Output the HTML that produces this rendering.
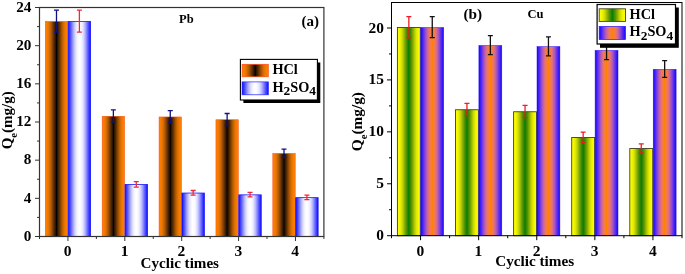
<!DOCTYPE html>
<html><head><meta charset="utf-8"><title>chart</title>
<style>html,body{margin:0;padding:0;background:#fff;}svg{display:block;will-change:transform;}text{font-family:"Liberation Serif",serif;font-weight:bold;fill:#000;}</style></head><body>
<svg width="685" height="274" viewBox="0 0 685 274">
<defs>
<linearGradient id="gO" x1="0" x2="1" y1="0" y2="0"><stop offset="0.0000" stop-color="#ff8000"/><stop offset="0.0312" stop-color="#fd7f00"/><stop offset="0.0625" stop-color="#f97d00"/><stop offset="0.0938" stop-color="#f47a00"/><stop offset="0.1250" stop-color="#ec7700"/><stop offset="0.1562" stop-color="#e27200"/><stop offset="0.1875" stop-color="#d56b00"/><stop offset="0.2188" stop-color="#c66300"/><stop offset="0.2500" stop-color="#b45b00"/><stop offset="0.2812" stop-color="#a15100"/><stop offset="0.3125" stop-color="#8c4600"/><stop offset="0.3438" stop-color="#763b00"/><stop offset="0.3750" stop-color="#603000"/><stop offset="0.4062" stop-color="#4b2600"/><stop offset="0.4375" stop-color="#371b00"/><stop offset="0.4688" stop-color="#221100"/><stop offset="0.5000" stop-color="#000000"/><stop offset="0.5312" stop-color="#221100"/><stop offset="0.5625" stop-color="#371b00"/><stop offset="0.5938" stop-color="#4b2600"/><stop offset="0.6250" stop-color="#603000"/><stop offset="0.6562" stop-color="#763b00"/><stop offset="0.6875" stop-color="#8c4600"/><stop offset="0.7188" stop-color="#a15100"/><stop offset="0.7500" stop-color="#b45b00"/><stop offset="0.7812" stop-color="#c66300"/><stop offset="0.8125" stop-color="#d56b00"/><stop offset="0.8438" stop-color="#e27200"/><stop offset="0.8750" stop-color="#ec7700"/><stop offset="0.9062" stop-color="#f47a00"/><stop offset="0.9375" stop-color="#f97d00"/><stop offset="0.9688" stop-color="#fd7f00"/><stop offset="1.0000" stop-color="#ff8000"/></linearGradient>
<linearGradient id="gB" x1="0" x2="1" y1="0" y2="0"><stop offset="0.0000" stop-color="#0000ff"/><stop offset="0.0312" stop-color="#2222ff"/><stop offset="0.0625" stop-color="#3737ff"/><stop offset="0.0938" stop-color="#4b4bff"/><stop offset="0.1250" stop-color="#6060ff"/><stop offset="0.1562" stop-color="#7676ff"/><stop offset="0.1875" stop-color="#8c8cff"/><stop offset="0.2188" stop-color="#a1a1ff"/><stop offset="0.2500" stop-color="#b4b4ff"/><stop offset="0.2812" stop-color="#c6c6ff"/><stop offset="0.3125" stop-color="#d5d5ff"/><stop offset="0.3438" stop-color="#e2e2ff"/><stop offset="0.3750" stop-color="#ececff"/><stop offset="0.4062" stop-color="#f4f4ff"/><stop offset="0.4375" stop-color="#f9f9ff"/><stop offset="0.4688" stop-color="#fdfdff"/><stop offset="0.5000" stop-color="#ffffff"/><stop offset="0.5312" stop-color="#fdfdff"/><stop offset="0.5625" stop-color="#f9f9ff"/><stop offset="0.5938" stop-color="#f4f4ff"/><stop offset="0.6250" stop-color="#ececff"/><stop offset="0.6562" stop-color="#e2e2ff"/><stop offset="0.6875" stop-color="#d5d5ff"/><stop offset="0.7188" stop-color="#c6c6ff"/><stop offset="0.7500" stop-color="#b4b4ff"/><stop offset="0.7812" stop-color="#a1a1ff"/><stop offset="0.8125" stop-color="#8c8cff"/><stop offset="0.8438" stop-color="#7676ff"/><stop offset="0.8750" stop-color="#6060ff"/><stop offset="0.9062" stop-color="#4b4bff"/><stop offset="0.9375" stop-color="#3737ff"/><stop offset="0.9688" stop-color="#2222ff"/><stop offset="1.0000" stop-color="#0000ff"/></linearGradient>
<linearGradient id="gY" x1="0" x2="1" y1="0" y2="0"><stop offset="0.0000" stop-color="#ffff00"/><stop offset="0.0312" stop-color="#fdfd00"/><stop offset="0.0625" stop-color="#f9fb00"/><stop offset="0.0938" stop-color="#f4f700"/><stop offset="0.1250" stop-color="#ecf100"/><stop offset="0.1562" stop-color="#e2ea00"/><stop offset="0.1875" stop-color="#d5e100"/><stop offset="0.2188" stop-color="#c6d600"/><stop offset="0.2500" stop-color="#b4ca00"/><stop offset="0.2812" stop-color="#a1bd00"/><stop offset="0.3125" stop-color="#8cb000"/><stop offset="0.3438" stop-color="#76a400"/><stop offset="0.3750" stop-color="#609900"/><stop offset="0.4062" stop-color="#4b9000"/><stop offset="0.4375" stop-color="#378800"/><stop offset="0.4688" stop-color="#228300"/><stop offset="0.5000" stop-color="#008000"/><stop offset="0.5312" stop-color="#228300"/><stop offset="0.5625" stop-color="#378800"/><stop offset="0.5938" stop-color="#4b9000"/><stop offset="0.6250" stop-color="#609900"/><stop offset="0.6562" stop-color="#76a400"/><stop offset="0.6875" stop-color="#8cb000"/><stop offset="0.7188" stop-color="#a1bd00"/><stop offset="0.7500" stop-color="#b4ca00"/><stop offset="0.7812" stop-color="#c6d600"/><stop offset="0.8125" stop-color="#d5e100"/><stop offset="0.8438" stop-color="#e2ea00"/><stop offset="0.8750" stop-color="#ecf100"/><stop offset="0.9062" stop-color="#f4f700"/><stop offset="0.9375" stop-color="#f9fb00"/><stop offset="0.9688" stop-color="#fdfd00"/><stop offset="1.0000" stop-color="#ffff00"/></linearGradient>
<linearGradient id="gP" x1="0" x2="1" y1="0" y2="0"><stop offset="0.0000" stop-color="#0000ff"/><stop offset="0.0312" stop-color="#2211fd"/><stop offset="0.0625" stop-color="#371bf9"/><stop offset="0.0938" stop-color="#4b26f4"/><stop offset="0.1250" stop-color="#6030ec"/><stop offset="0.1562" stop-color="#763be2"/><stop offset="0.1875" stop-color="#8c46d5"/><stop offset="0.2188" stop-color="#a151c6"/><stop offset="0.2500" stop-color="#b45bb4"/><stop offset="0.2812" stop-color="#c663a1"/><stop offset="0.3125" stop-color="#d56b8c"/><stop offset="0.3438" stop-color="#e27276"/><stop offset="0.3750" stop-color="#ec7760"/><stop offset="0.4062" stop-color="#f47a4b"/><stop offset="0.4375" stop-color="#f97d37"/><stop offset="0.4688" stop-color="#fd7f22"/><stop offset="0.5000" stop-color="#ff8000"/><stop offset="0.5312" stop-color="#fd7f22"/><stop offset="0.5625" stop-color="#f97d37"/><stop offset="0.5938" stop-color="#f47a4b"/><stop offset="0.6250" stop-color="#ec7760"/><stop offset="0.6562" stop-color="#e27276"/><stop offset="0.6875" stop-color="#d56b8c"/><stop offset="0.7188" stop-color="#c663a1"/><stop offset="0.7500" stop-color="#b45bb4"/><stop offset="0.7812" stop-color="#a151c6"/><stop offset="0.8125" stop-color="#8c46d5"/><stop offset="0.8438" stop-color="#763be2"/><stop offset="0.8750" stop-color="#6030ec"/><stop offset="0.9062" stop-color="#4b26f4"/><stop offset="0.9375" stop-color="#371bf9"/><stop offset="0.9688" stop-color="#2211fd"/><stop offset="1.0000" stop-color="#0000ff"/></linearGradient>
</defs>
<rect width="685" height="274" fill="#fff"/>
<rect x="45.29" y="21.45" width="22.40" height="215.05" fill="url(#gO)" stroke="#ff4a10" stroke-width="0.5"/>
<rect x="68.19" y="21.45" width="22.40" height="215.05" fill="url(#gB)" stroke="#1818ff" stroke-width="0.8"/>
<rect x="102.17" y="116.25" width="22.40" height="120.25" fill="url(#gO)" stroke="#ff4a10" stroke-width="0.5"/>
<rect x="125.07" y="184.55" width="22.40" height="51.95" fill="url(#gB)" stroke="#1818ff" stroke-width="0.8"/>
<rect x="159.05" y="116.95" width="22.40" height="119.55" fill="url(#gO)" stroke="#ff4a10" stroke-width="0.5"/>
<rect x="181.95" y="193.05" width="22.40" height="43.45" fill="url(#gB)" stroke="#1818ff" stroke-width="0.8"/>
<rect x="215.93" y="119.75" width="22.40" height="116.75" fill="url(#gO)" stroke="#ff4a10" stroke-width="0.5"/>
<rect x="238.83" y="194.85" width="22.40" height="41.65" fill="url(#gB)" stroke="#1818ff" stroke-width="0.8"/>
<rect x="272.81" y="153.45" width="22.40" height="83.05" fill="url(#gO)" stroke="#ff4a10" stroke-width="0.5"/>
<rect x="295.71" y="197.65" width="22.40" height="38.85" fill="url(#gB)" stroke="#1818ff" stroke-width="0.8"/>
<path d="M56.49 10.20V32.20M53.99 10.20H58.99M53.99 32.20H58.99" stroke="#101080" stroke-width="1.3" fill="none"/>
<path d="M79.39 10.20V32.20M76.89 10.20H81.89M76.89 32.20H81.89" stroke="#f02838" stroke-width="1.3" fill="none"/>
<path d="M113.37 109.80V122.20M110.87 109.80H115.87M110.87 122.20H115.87" stroke="#101080" stroke-width="1.3" fill="none"/>
<path d="M136.27 181.55V187.05M133.77 181.55H138.77M133.77 187.05H138.77" stroke="#f02838" stroke-width="1.3" fill="none"/>
<path d="M170.25 110.60V122.80M167.75 110.60H172.75M167.75 122.80H172.75" stroke="#101080" stroke-width="1.3" fill="none"/>
<path d="M193.15 190.50V195.10M190.65 190.50H195.65M190.65 195.10H195.65" stroke="#f02838" stroke-width="1.3" fill="none"/>
<path d="M227.13 113.50V125.50M224.63 113.50H229.63M224.63 125.50H229.63" stroke="#101080" stroke-width="1.3" fill="none"/>
<path d="M250.03 192.30V196.90M247.53 192.30H252.53M247.53 196.90H252.53" stroke="#f02838" stroke-width="1.3" fill="none"/>
<path d="M284.01 149.10V157.30M281.51 149.10H286.51M281.51 157.30H286.51" stroke="#101080" stroke-width="1.3" fill="none"/>
<path d="M306.91 195.20V199.60M304.41 195.20H309.41M304.41 199.60H309.41" stroke="#f02838" stroke-width="1.3" fill="none"/>
<rect x="39.5" y="7.5" width="284.40" height="229.0" fill="none" stroke="#333" stroke-width="1.2"/>
<path d="M39.5 236.50h-4.5M39.5 217.42h-2.5M39.5 198.33h-4.5M39.5 179.25h-2.5M39.5 160.17h-4.5M39.5 141.08h-2.5M39.5 122.00h-4.5M39.5 102.92h-2.5M39.5 83.83h-4.5M39.5 64.75h-2.5M39.5 45.67h-4.5M39.5 26.58h-2.5M39.5 7.50h-4.5M39.50 236.5v2.5M67.94 236.5v4.5M96.38 236.5v2.5M124.82 236.5v4.5M153.26 236.5v2.5M181.70 236.5v4.5M210.14 236.5v2.5M238.58 236.5v4.5M267.02 236.5v2.5M295.46 236.5v4.5M323.90 236.5v2.5" stroke="#333" stroke-width="1" fill="none"/>
<text x="31.4" y="240.80" font-size="15.2" text-anchor="end">0</text>
<text x="31.4" y="202.63" font-size="15.2" text-anchor="end">4</text>
<text x="31.4" y="164.47" font-size="15.2" text-anchor="end">8</text>
<text x="31.4" y="126.30" font-size="15.2" text-anchor="end">12</text>
<text x="31.4" y="88.13" font-size="15.2" text-anchor="end">16</text>
<text x="31.4" y="49.97" font-size="15.2" text-anchor="end">20</text>
<text x="31.4" y="11.80" font-size="15.2" text-anchor="end">24</text>
<text x="67.64" y="255.9" font-size="15.5" text-anchor="middle">0</text>
<text x="124.52" y="255.9" font-size="15.5" text-anchor="middle">1</text>
<text x="181.40" y="255.9" font-size="15.5" text-anchor="middle">2</text>
<text x="238.28" y="255.9" font-size="15.5" text-anchor="middle">3</text>
<text x="295.16" y="255.9" font-size="15.5" text-anchor="middle">4</text>
<text x="179.8" y="267.8" font-size="15.1" text-anchor="middle">Cyclic times</text>
<text transform="translate(12.4,120.3) rotate(-90)" font-size="15.0" text-anchor="middle">Q<tspan font-size="10.5" dy="4.2">e</tspan><tspan dy="-4.2">(mg/g)</tspan></text>
<text x="186.3" y="23.1" font-size="12.5" text-anchor="middle">Pb</text>
<text x="310.3" y="26" font-size="15" text-anchor="middle">(a)</text>
<rect x="243.4" y="62.5" width="76.9" height="40.5" fill="#000"/>
<rect x="240.4" y="59.4" width="77.0" height="40.6" fill="#fff" stroke="#000" stroke-width="1.1"/>
<rect x="242.1" y="64.3" width="26.2" height="12.5" fill="url(#gO)" stroke="#ff4a10" stroke-width="0.7"/>
<rect x="242.1" y="81.9" width="26.2" height="12.9" fill="url(#gB)" stroke="#2020ff" stroke-width="0.7"/>
<text x="272.4" y="74.2" font-size="14.3">HCl</text>
<text x="272.4" y="91.9" font-size="14.3">H<tspan font-size="13.4" dy="3.4">2</tspan><tspan dy="-3.4">SO</tspan><tspan font-size="13.4" dy="3.4">4</tspan></text>
<rect x="397.40" y="27.45" width="22.90" height="208.25" fill="url(#gY)" stroke="#404028" stroke-width="0.9"/>
<rect x="420.80" y="27.45" width="22.90" height="208.25" fill="url(#gP)" stroke="#2a18ff" stroke-width="0.5"/>
<rect x="455.50" y="109.75" width="22.90" height="125.95" fill="url(#gY)" stroke="#404028" stroke-width="0.9"/>
<rect x="478.90" y="45.45" width="22.90" height="190.25" fill="url(#gP)" stroke="#2a18ff" stroke-width="0.5"/>
<rect x="513.60" y="111.75" width="22.90" height="123.95" fill="url(#gY)" stroke="#404028" stroke-width="0.9"/>
<rect x="537.00" y="46.55" width="22.90" height="189.15" fill="url(#gP)" stroke="#2a18ff" stroke-width="0.5"/>
<rect x="571.70" y="137.45" width="22.90" height="98.25" fill="url(#gY)" stroke="#404028" stroke-width="0.9"/>
<rect x="595.10" y="50.35" width="22.90" height="185.35" fill="url(#gP)" stroke="#2a18ff" stroke-width="0.5"/>
<rect x="629.80" y="148.55" width="22.90" height="87.15" fill="url(#gY)" stroke="#404028" stroke-width="0.9"/>
<rect x="653.20" y="69.25" width="22.90" height="166.45" fill="url(#gP)" stroke="#2a18ff" stroke-width="0.5"/>
<path d="M408.85 16.60V37.80M406.35 16.60H411.35M406.35 37.80H411.35" stroke="#ee1c24" stroke-width="1.3" fill="none"/>
<path d="M432.25 16.70V37.70M429.75 16.70H434.75M429.75 37.70H434.75" stroke="#111" stroke-width="1.3" fill="none"/>
<path d="M466.95 103.40V115.60M464.45 103.40H469.45M464.45 115.60H469.45" stroke="#ee1c24" stroke-width="1.3" fill="none"/>
<path d="M490.35 35.70V54.70M487.85 35.70H492.85M487.85 54.70H492.85" stroke="#111" stroke-width="1.3" fill="none"/>
<path d="M525.05 105.30V117.70M522.55 105.30H527.55M522.55 117.70H527.55" stroke="#ee1c24" stroke-width="1.3" fill="none"/>
<path d="M548.45 36.80V55.80M545.95 36.80H550.95M545.95 55.80H550.95" stroke="#111" stroke-width="1.3" fill="none"/>
<path d="M583.15 132.10V142.30M580.65 132.10H585.65M580.65 142.30H585.65" stroke="#ee1c24" stroke-width="1.3" fill="none"/>
<path d="M606.55 40.60V59.60M604.05 40.60H609.05M604.05 59.60H609.05" stroke="#111" stroke-width="1.3" fill="none"/>
<path d="M641.25 143.80V152.80M638.75 143.80H643.75M638.75 152.80H643.75" stroke="#ee1c24" stroke-width="1.3" fill="none"/>
<path d="M664.65 60.60V77.40M662.15 60.60H667.15M662.15 77.40H667.15" stroke="#111" stroke-width="1.3" fill="none"/>
<rect x="391.5" y="2.5" width="290.50" height="233.2" fill="none" stroke="#000" stroke-width="1"/>
<path d="M391.5 235.70h-4.5M391.5 209.74h-2.5M391.5 183.77h-4.5M391.5 157.81h-2.5M391.5 131.85h-4.5M391.5 105.89h-2.5M391.5 79.92h-4.5M391.5 53.96h-2.5M391.5 28.00h-4.5M391.50 235.7v2.5M420.55 235.7v4.5M449.60 235.7v2.5M478.65 235.7v4.5M507.70 235.7v2.5M536.75 235.7v4.5M565.80 235.7v2.5M594.85 235.7v4.5M623.90 235.7v2.5M652.95 235.7v4.5M682.00 235.7v2.5" stroke="#000" stroke-width="1" fill="none"/>
<text x="384.0" y="240.20" font-size="15.4" text-anchor="end">0</text>
<text x="384.0" y="188.27" font-size="15.4" text-anchor="end">5</text>
<text x="384.0" y="136.35" font-size="15.4" text-anchor="end">10</text>
<text x="384.0" y="84.42" font-size="15.4" text-anchor="end">15</text>
<text x="384.0" y="32.50" font-size="15.4" text-anchor="end">20</text>
<text x="420.35" y="255.6" font-size="15.5" text-anchor="middle">0</text>
<text x="478.45" y="255.6" font-size="15.5" text-anchor="middle">1</text>
<text x="536.55" y="255.6" font-size="15.5" text-anchor="middle">2</text>
<text x="594.65" y="255.6" font-size="15.5" text-anchor="middle">3</text>
<text x="652.75" y="255.6" font-size="15.5" text-anchor="middle">4</text>
<text x="534.7" y="266.2" font-size="15.2" text-anchor="middle">Cyclic times</text>
<text transform="translate(362.4,121.6) rotate(-90)" font-size="15.3" text-anchor="middle">Q<tspan font-size="10.5" dy="4.2">e</tspan><tspan dy="-4.2">(mg/g)</tspan></text>
<text x="535.6" y="17.7" font-size="12.5" text-anchor="middle">Cu</text>
<text x="472.8" y="19.4" font-size="15.3" text-anchor="middle">(b)</text>
<rect x="600" y="7.5" width="78.8" height="40.3" fill="#000"/>
<rect x="597.1" y="4.5" width="78.4" height="39.5" fill="#fff" stroke="#000" stroke-width="1.2"/>
<rect x="599.2" y="8.8" width="26.3" height="12.6" fill="url(#gY)" stroke="#404028" stroke-width="0.9"/>
<rect x="599.2" y="26.4" width="26.3" height="13.2" fill="url(#gP)" stroke="#2a18ff" stroke-width="0.7"/>
<text x="629.6" y="18.6" font-size="14.3">HCl</text>
<text x="629.6" y="36.1" font-size="14.3">H<tspan font-size="13.4" dy="3.4">2</tspan><tspan dy="-3.4">SO</tspan><tspan font-size="13.4" dy="3.4">4</tspan></text>
</svg></body></html>
